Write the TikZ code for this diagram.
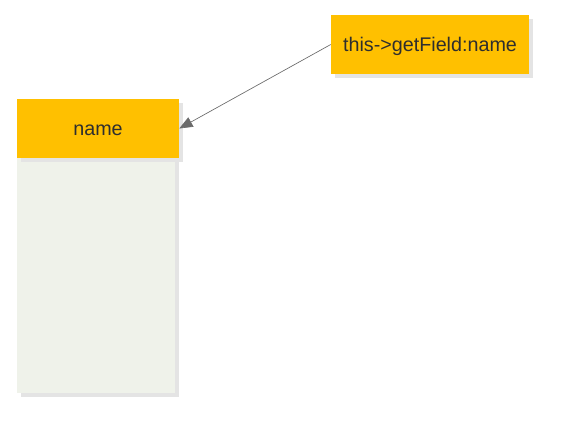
\documentclass[tikz,border=0pt]{standalone}
\usepackage{fontspec}
\setmainfont{Liberation Sans}
\usetikzlibrary{arrows.meta,positioning,shadows}
\definecolor{hdrorange}{HTML}{FFC000}
\definecolor{bodygreen}{HTML}{EFF2EA}
\definecolor{shadegray}{HTML}{E4E4E4}
\definecolor{txtgray}{HTML}{2E2E2E}
\definecolor{linkgray}{HTML}{6A6A6A}
\tikzset{
  shade/.style={drop shadow={shadow xshift=3pt,shadow yshift=-3pt,fill=shadegray,opacity=1}},
  hdr/.style={rectangle,fill=hdrorange,shade,text=txtgray,inner sep=0pt,text height=10.4pt,text depth=0.5pt,font=\fontsize{14.8}{17}\selectfont},
  tablebody/.style={rectangle,fill=bodygreen,shade,inner sep=0pt},
  link/.style={-{Triangle[length=10pt,width=8pt]},draw=linkgray,line width=0.5pt},
  every node/.style={font=\small}
}
\begin{document}
\begin{tikzpicture}[x=0.75pt,y=-0.75pt]
\useasboundingbox (0,0) rectangle (584,446);
\node[tablebody,minimum width=158*0.75pt,minimum height=235*0.75pt] (namebody) at (96,275.5) {};
\node[hdr,minimum width=162*0.75pt,minimum height=59*0.75pt] (name) at (98,128.5) {name};
\node[hdr,minimum width=198*0.75pt,minimum height=59*0.75pt] (getfield) at (430,44.5) {this->getField:name};
\draw[link] (getfield.west) -- (name.east);
\end{tikzpicture}
\end{document}
